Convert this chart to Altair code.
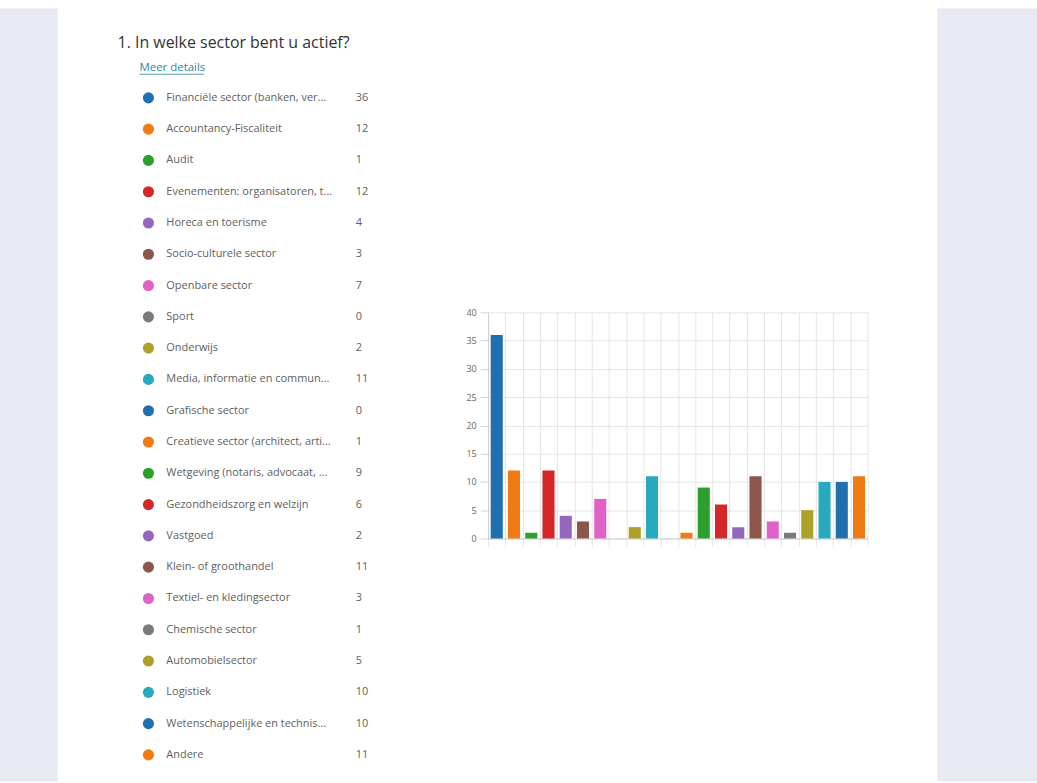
import altair as alt
import pandas as pd

# ---------------- data ----------------
categories = [
    "Financiële sector (banken, ver...",
    "Accountancy-Fiscaliteit",
    "Audit",
    "Evenementen: organisatoren, t...",
    "Horeca en toerisme",
    "Socio-culturele sector",
    "Openbare sector",
    "Sport",
    "Onderwijs",
    "Media, informatie en commun...",
    "Grafische sector",
    "Creatieve sector (architect, arti...",
    "Wetgeving (notaris, advocaat, ...",
    "Gezondheidszorg en welzijn",
    "Vastgoed",
    "Klein- of groothandel",
    "Textiel- en kledingsector",
    "Chemische sector",
    "Automobielsector",
    "Logistiek",
    "Wetenschappelijke en technis...",
    "Andere",
]
counts = [36, 12, 1, 12, 4, 3, 7, 0, 2, 11, 0, 1, 9, 6, 2, 11, 3, 1, 5, 10, 10, 11]
palette = ["#2070b0", "#f07a14", "#2ca02c", "#d62728", "#9467bd",
           "#8c564b", "#e062c6", "#7a7a7a", "#aea12a", "#27a9bf"]
y_ticks = [0, 5, 10, 15, 20, 25, 30, 35, 40]

title_text = "1. In welke sector bent u actief?"
link_text = "Meer details"

colors = [palette[i % len(palette)] for i in range(len(categories))]
df = pd.DataFrame({
    "cat": categories,
    "count": counts,
    "color": colors,
    "countlabel": [str(c) for c in counts],
})

FONT = "Open Sans"
BLUE_BG = "#e7eaf3"
GRID = "#e6e6e6"
TXT = "#606060"
LINK = "#2b8a9c"

one = pd.DataFrame({"a": [0]})


def spacer(w, h, fill=None, **props):
    vb = alt.ViewBackground(fill=fill, stroke=None) if fill else alt.ViewBackground(stroke=None)
    return alt.Chart(one).mark_rect(opacity=0).encode(
        x=alt.value(0), x2=alt.value(1), y=alt.value(0), y2=alt.value(1)
    ).properties(width=w, height=h, view=vb, **props)


# ---------------- legend list ----------------
ybase = alt.Y("cat:N", sort=categories,
              scale=alt.Scale(paddingInner=0, paddingOuter=0), axis=None)
base = alt.Chart(df).encode(y=ybase)

dots = base.mark_circle(size=125, opacity=1).encode(
    x=alt.value(91), color=alt.Color("color:N", scale=None)
)
labels = base.mark_text(align="left", baseline="middle", font=FONT,
                        fontSize=11, color=TXT).encode(
    x=alt.value(109), text="cat:N"
)
nums = base.mark_text(align="left", baseline="middle", font=FONT,
                      fontSize=11, color=TXT).encode(
    x=alt.value(299), text="countlabel:N"
)
# underline of the "Meer details" link
underline = alt.Chart(one).mark_rule(color=LINK, strokeWidth=0.8).encode(
    x=alt.value(82), x2=alt.value(147), y=alt.value(-8)
)

legend = alt.layer(dots, labels, nums, underline).properties(
    width=409, height=691,
    title=alt.TitleParams(
        text=link_text, anchor="start", dx=82, orient="top",
        font=FONT, fontSize=11.5, fontWeight="normal", color=LINK,
        offset=0,
    ),
)
title_block = spacer(
    409, 23,
    title=alt.TitleParams(
        text=title_text, anchor="start", dx=60, orient="bottom",
        font=FONT, fontSize=16, fontWeight="normal", color="#333333",
        offset=4,
    ),
)
legend_col = alt.vconcat(title_block, legend, spacing=11)

# ---------------- bar chart ----------------
bars = alt.Chart(df).mark_bar(width=alt.RelativeBandSize(0.7)).encode(
    x=alt.X("cat:N", sort=categories,
            scale=alt.Scale(paddingInner=0, paddingOuter=0),
            axis=alt.Axis(labels=False, title=None, grid=True, tickBand="extent",
                          gridColor=GRID, tickColor=GRID, tickSize=8,
                          domainColor="#cccccc")),
    y=alt.Y("count:Q", scale=alt.Scale(domain=[0, 40]),
            axis=alt.Axis(values=y_ticks, title=None, grid=True, gridColor=GRID,
                          labelFont=FONT, labelFontSize=9, labelColor="#666666",
                          tickColor="#d4d4d4", tickSize=8, labelPadding=4,
                          domainColor="#d0d0d0")),
    color=alt.Color("color:N", scale=None),
).properties(width=381, height=227)

bar_col = alt.vconcat(spacer(381, 301), bars, spacing=0)

chart = alt.hconcat(
    spacer(58, 776, BLUE_BG),
    legend_col,
    bar_col,
    spacer(69, 776),
    spacer(100, 776, BLUE_BG),
    spacing=0,
).configure(
    background="white",
    padding={"top": 7, "left": 0, "right": 0, "bottom": 0},
).configure_view(stroke=None).configure_concat(spacing=0)

chart.save("out.html", embed_options={"renderer": "svg", "actions": False})
